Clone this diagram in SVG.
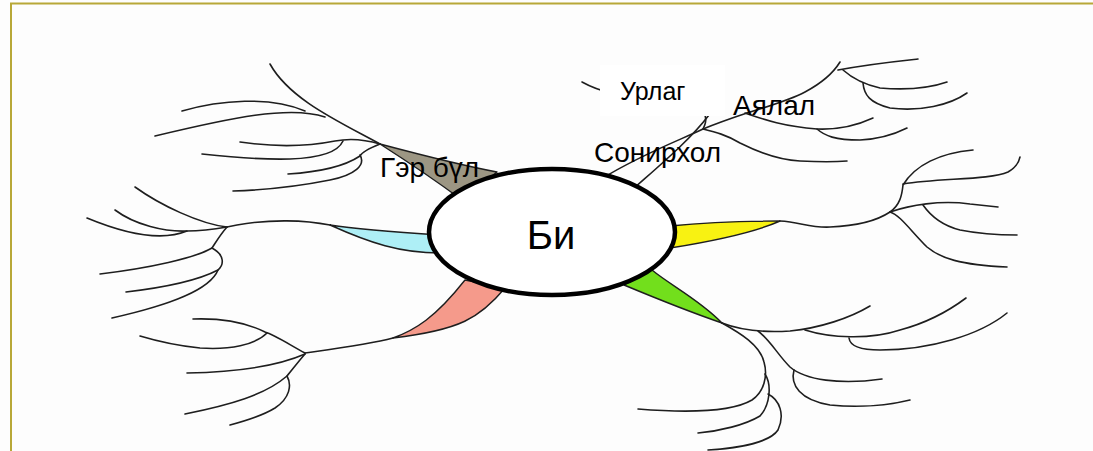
<svg xmlns="http://www.w3.org/2000/svg" width="1093" height="451" viewBox="0 0 1093 451">
<style>
.ln{fill:none;stroke:#1e1e1e;stroke-width:1.6;stroke-linecap:round}
.wd{stroke:#1e1e1e;stroke-width:1.4;stroke-linejoin:round}
.lbl{font-family:"Liberation Sans",Arial,sans-serif;font-size:28px;fill:#000}
</style>
<rect width="1093" height="451" fill="#fdfdfd"/>
<path d="M11,451 V3.5 H1093" fill="none" stroke="#b8a838" stroke-width="2"/>
<g id="connectors">
<!-- upper-left (Гэр бүл) -->
<path class="wd" fill="#9c9683" d="M380,144 C410,152 460,165 497,172 L462,200 C435,180 405,160 380,144 Z"/>
<path class="ln" d="M380,144 C340,122 290,100 270,64"/>
<path class="ln" d="M325,117 C290,105 230,118 155,136"/>
<path class="ln" d="M305,111 C270,96 220,100 182,111"/>
<path class="ln" d="M380,144 C360,138 345,139 335,141 C310,146 280,148 240,142"/>
<path class="ln" d="M343,141 C338,152 320,158 290,159 C260,160 230,157 202,154"/>
<path class="ln" d="M380,144 C370,148 362,152 360,156 C345,166 320,172 288,174"/>
<path class="ln" d="M360,155 C366,165 355,175 330,180 C300,186 265,190 233,191"/>
<!-- left (cyan) -->
<path class="wd" fill="#aeeff6" d="M330,225 C350,228 380,231 440,235 L440,253 C400,253 370,243 330,225 Z"/>
<path class="ln" d="M330,225 C305,220 270,219 237,225 L227,227"/>
<path class="ln" d="M227,227 C200,224 160,205 135,187"/>
<path class="ln" d="M227,227 C210,230 195,231 187,231 C165,232 135,225 115,210"/>
<path class="ln" d="M187,231 C170,238 140,240 87,218"/>
<path class="ln" d="M227,227 C220,235 216,242 212,248 C195,258 150,268 100,274"/>
<path class="ln" d="M212,248 C225,255 224,265 218,270 C195,282 160,288 126,292"/>
<path class="ln" d="M218,270 C210,290 170,305 112,318"/>
<!-- lower-left (salmon) -->
<path class="wd" fill="#f59a8b" d="M393,338 C415,330 435,318 465,280 L505,288 C480,318 460,330 393,338 Z"/>
<path class="ln" d="M393,338 C370,344 340,348 305,353"/>
<path class="ln" d="M305,353 C290,345 275,335 265,332 C245,322 220,318 193,319"/>
<path class="ln" d="M267,333 C255,345 230,350 200,348 C180,346 160,342 140,336"/>
<path class="ln" d="M305,354 C280,365 240,372 187,373"/>
<path class="ln" d="M305,354 C298,362 292,370 287,376 C265,395 230,405 185,414"/>
<path class="ln" d="M287,376 C292,385 290,398 275,408 C262,416 245,421 230,425"/>
<!-- upper-right (Сонирхол / Урлаг / Аялал) -->
<path class="ln" d="M703,129 C712,112 700,100 650,98 C620,97 600,92 582,82"/>
<path class="ln" d="M603,178 C640,155 680,140 703,129 C720,122 735,117 747,113"/>
<path class="ln" d="M632,190 C660,165 690,140 709,115"/>
<path class="ln" d="M747,113 C770,106 790,100 805,92 C820,84 832,75 840,62"/>
<path class="ln" d="M838,70 C870,64 890,62 918,59"/>
<path class="ln" d="M843,70 C852,78 862,84 880,88 C905,90 930,88 947,82"/>
<path class="ln" d="M863,83 C864,95 870,103 890,108 C920,112 950,105 967,93"/>
<path class="ln" d="M745,113 C760,118 780,126 817,129 C840,130 860,124 873,118"/>
<path class="ln" d="M817,129 C825,136 835,140 860,140 C880,139 895,134 907,128"/>
<path class="ln" d="M703,129 C715,132 727,135 740,143 C760,153 780,160 800,161 C820,162 835,162 847,161"/>
<!-- right (yellow) -->
<path class="wd" fill="#f8f212" d="M670,226 C710,222 750,221 780,221 C760,230 720,240 670,248 Z"/>
<path class="ln" d="M780,221 C800,222 810,228 830,227 C855,226 875,222 890,212"/>
<path class="ln" d="M890,212 C900,205 902,195 903,185 C915,165 940,153 973,150"/>
<path class="ln" d="M903,184 C940,178 990,180 1008,172 C1015,168 1019,162 1020,157"/>
<path class="ln" d="M890,212 C910,205 940,200 970,204 L998,207"/>
<path class="ln" d="M923,205 C930,215 940,225 960,230 C980,234 1000,235 1017,235"/>
<path class="ln" d="M890,212 C900,215 910,230 927,247 C940,258 960,265 1007,267"/>
<!-- lower-right (green) -->
<path class="wd" fill="#72df1c" d="M652,270 C670,285 700,300 722,323 C690,312 660,300 624,285 Z"/>
<path class="ln" d="M722,323 C740,330 760,333 790,331 C820,328 850,318 870,306"/>
<path class="ln" d="M805,330 C830,338 870,340 900,330 C930,322 950,310 966,298"/>
<path class="ln" d="M849,338 C850,346 860,350 880,350 C930,350 980,335 1007,313"/>
<path class="ln" d="M722,323 C740,333 760,345 764,362 C768,376 764,392 752,400 C735,410 700,414 638,409"/>
<path class="ln" d="M765,374 C772,385 770,405 760,416 C745,425 720,431 698,433"/>
<path class="ln" d="M768,394 C780,400 785,415 778,430 C770,442 740,448 708,450"/>
<path class="ln" d="M758,331 C770,340 778,355 790,367 C805,380 840,385 882,379"/>
<path class="ln" d="M794,370 C790,385 800,400 830,405 C860,408 890,405 910,400"/>
</g>
<rect x="600" y="65" width="125" height="51" fill="#ffffff"/>
<g id="center">
<ellipse cx="552" cy="232" rx="123" ry="63" fill="#ffffff" stroke="#000" stroke-width="4.5"/>
<text x="551" y="249" text-anchor="middle" font-family="Liberation Sans, Arial, sans-serif" font-size="40">Би</text>
</g>
<g id="label-family"><text class="lbl" x="380" y="177">Гэр бүл</text></g>
<g id="label-art"><text class="lbl" x="620" y="100" style="font-size:25px">Урлаг</text></g>
<g id="label-travel"><text class="lbl" x="733" y="115">Аялал</text></g>
<g id="label-hobby"><text class="lbl" x="594" y="162">Сонирхол</text></g>
</svg>
